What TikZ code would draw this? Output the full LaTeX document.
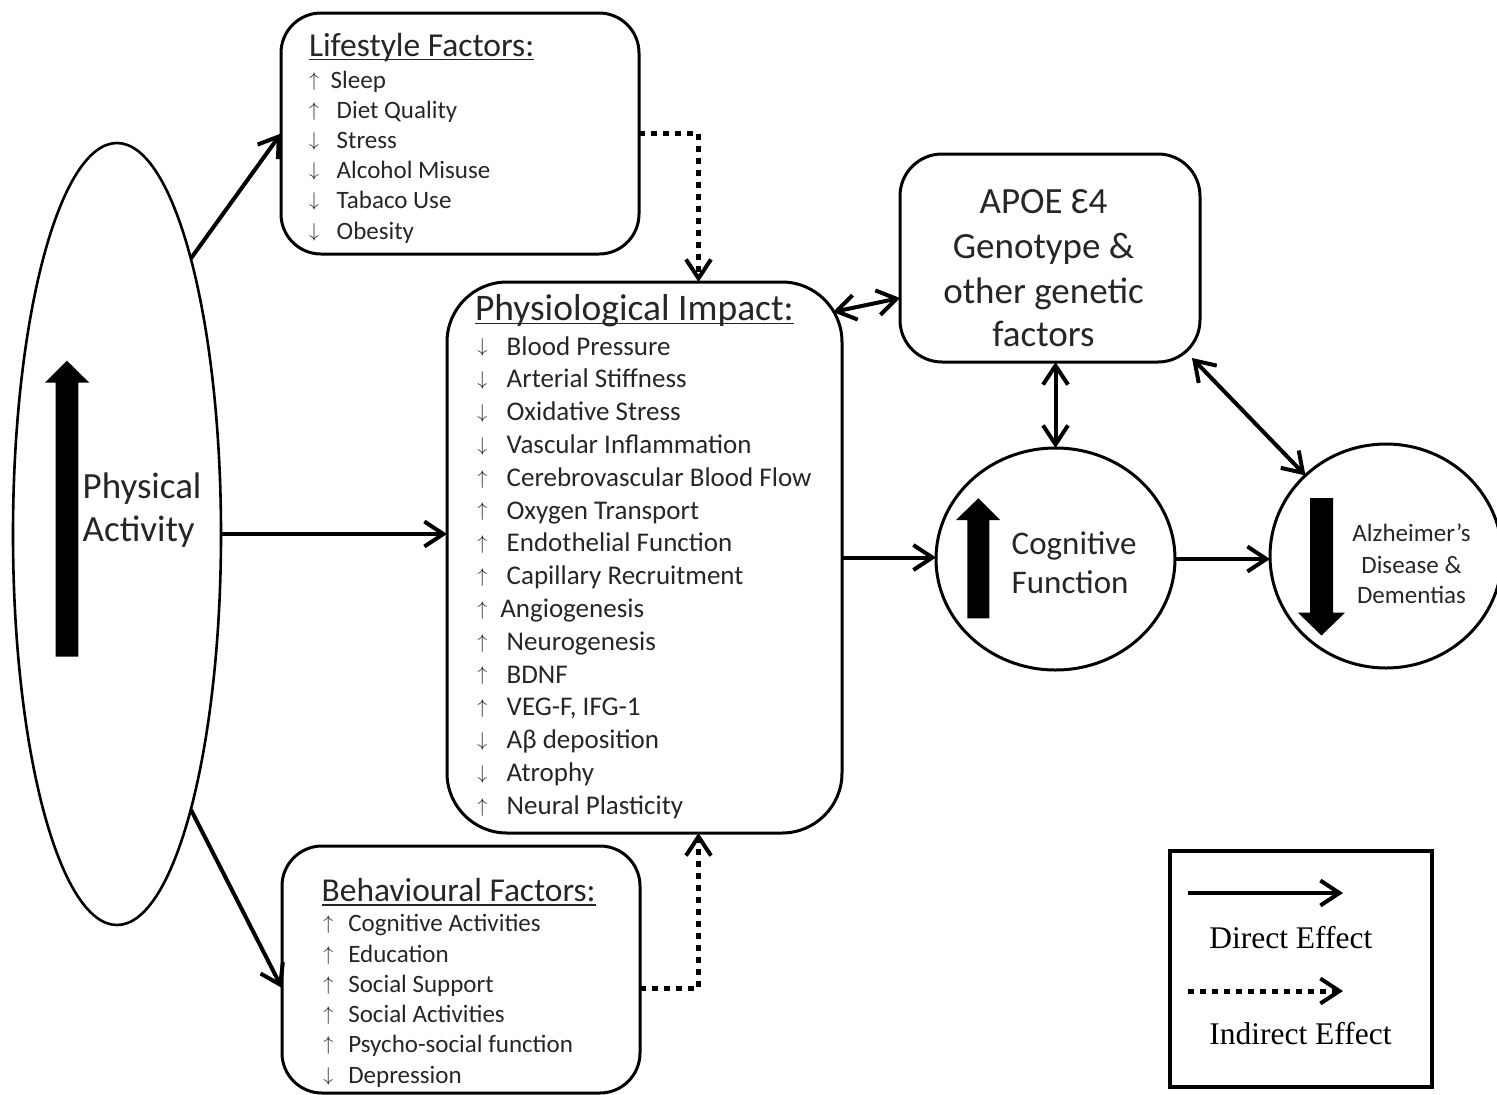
\documentclass[tikz,border=0pt]{standalone}
\usepackage{graphicx}
\usepackage{fontspec}
\setmainfont{Carlito}
\newfontfamily\tnr{Liberation Serif}
\usetikzlibrary{arrows.meta,calc,shapes.geometric}
\definecolor{tcol}{RGB}{38,38,38}
\newlength\arrw
\newcommand\ua{\raisebox{0.08em}{\scalebox{0.8}{$\uparrow$}}}
\newcommand\da{\raisebox{0.08em}{\scalebox{0.8}{$\downarrow$}}}
\newcommand\U{\makebox[\arrw][l]{\ua}}
\newcommand\D{\makebox[\arrw][l]{\da}}
\begin{document}
\begin{tikzpicture}[x=1pt,y=-1pt,
  box/.style={draw, line width=3pt, inner sep=0pt, outer sep=0pt},
  txt/.style={inner sep=0pt, outer sep=0pt, anchor=base west, text=tcol},
  ctxt/.style={inner sep=0pt, outer sep=0pt, anchor=base, text=tcol},
  conn/.style={line width=4pt, -{Straight Barb[length=19pt,width=25pt]}},
  dconn/.style={line width=4pt, {Straight Barb[length=19pt,width=25pt]}-{Straight Barb[length=19pt,width=25pt]}},
  indir/.style={line width=5pt, dash pattern=on 6pt off 6pt, -{Straight Barb[length=19pt,width=25pt,line width=4pt]}},
  uline/.style={line width=1.6pt, tcol},
]
\useasboundingbox (0,0) rectangle (1497,1095);

% main shapes
\node[box, rounded corners=40pt, minimum width=358pt, minimum height=241pt] (ls) at (460,133.5) {};
\node[box, rounded corners=60pt, minimum width=395pt, minimum height=551pt] (pi) at (644.5,557.5) {};
\node[box, rounded corners=40pt, minimum width=358pt, minimum height=247pt] (bf) at (461,969.5) {};
\node[box, rounded corners=42pt, minimum width=300pt, minimum height=208pt] (ap) at (1050,258) {};
\node[box, line width=2.6pt, ellipse, minimum width=208pt, minimum height=782pt] (pa) at (117,534) {};
\node[box, ellipse, minimum width=239pt, minimum height=222pt] (cf) at (1055.5,559) {};
\node[box, ellipse, minimum width=232pt, minimum height=224pt] (ad) at (1386,556) {};
\node[draw, line width=4.5pt, minimum width=262pt, minimum height=236pt, inner sep=0pt, outer sep=0pt] (lg) at (1301,969) {};

% block arrows
\fill (55.7,656.7) -- (55.7,382.7) -- (45,382.7) -- (66.9,360.7) -- (89.3,382.7) -- (78.3,382.7) -- (78.3,656.7) -- cycle;
\fill (967.3,618.3) -- (967.3,520) -- (956,520) -- (978.3,498.3) -- (1000,520) -- (989.3,520) -- (989.3,618.3) -- cycle;
\fill (1310,498) -- (1333,498) -- (1333,612.7) -- (1345,612.7) -- (1321.5,635.5) -- (1298,612.7) -- (1310,612.7) -- cycle;

% connectors
\draw[conn] (pa.75) -- (ls.west);
\draw[conn] (pa.east) -- (pa.east -| pi.west);
\draw[conn] (pa.-75) -- ($(bf.west)+(0,18.5)$);
\draw[indir] (ls.east) -| ($(pi.north)+(54,0)$);
\draw[indir] ($(bf.east)+(0,18.5)$) -| ($(pi.south)+(54,0)$);
\draw[dconn] ($(pi.north east)+(-9,30)$) -- ($(ap.west)+(0,40)$);
\draw[dconn] (ap.south -| cf.north) -- (cf.north);
\draw[dconn] ($(ap.south east)+(-8,-4)$) -- (ad.135);
\draw[conn] (pi.east) -- (pi.east -| cf.west);
\draw[conn] (cf.east) -- (cf.east -| ad.west);

% Physical activity
\node[txt, font=\fontsize{37}{44}\selectfont] (pa1) at (82.7,498) {Physical};
\node[txt, font=\fontsize{37}{44}\selectfont] (pa2) at (82.7,541) {Activity};

% Lifestyle
\node[txt, font=\fontsize{33.5}{40}\selectfont] (lsh) at (309,56) {Lifestyle Factors:};
\draw[uline] ($(lsh.base west)+(0,3.5)$) -- ($(lsh.base east)+(0,3.5)$);
\setlength\arrw{27.7pt}
\foreach \t [count=\i from 0] in {{\makebox[21.7pt][l]{\ua}Sleep}, {\U Diet Quality}, {\D Stress}, {\D Alcohol Misuse}, {\D Tabaco Use}, {\D Obesity}}
  \node[txt, font=\fontsize{25}{30}\selectfont] (ls\i) at (309,88.3+30.14*\i) {\t};

% Physiological
\node[txt, font=\fontsize{37.5}{45}\selectfont] (pih) at (475,320) {Physiological Impact:};
\draw[uline] ($(pih.base west)+(0,3.5)$) -- ($(pih.base east)+(0,3.5)$);
\setlength\arrw{29.4pt}
\foreach \t [count=\i from 0] in {{\D Blood Pressure}, {\D Arterial Stiffness}, {\D Oxidative Stress}, {\D Vascular Inflammation}, {\U Cerebrovascular Blood Flow}, {\U Oxygen Transport}, {\U Endothelial Function}, {\U Capillary Recruitment}, {\makebox[23pt][l]{\ua}Angiogenesis}, {\U Neurogenesis}, {\U BDNF}, {\U VEG-F, IFG-1}, {\D Aβ deposition}, {\D Atrophy}, {\U Neural Plasticity}}
  \node[txt, font=\fontsize{27}{32}\selectfont] (pi\i) at (477.3,355+32.8*\i) {\t};

% Behavioural
\node[txt, font=\fontsize{33.4}{40}\selectfont] (bfh) at (321.7,901.7) {Behavioural Factors:};
\draw[uline] ($(bfh.base west)+(0,3.5)$) -- ($(bfh.base east)+(0,3.5)$);
\setlength\arrw{25pt}
\foreach \t [count=\i from 0] in {{\U Cognitive Activities}, {\U Education}, {\U Social Support}, {\U Social Activities}, {\U Psycho-social function}, {\D Depression}}
  \node[txt, font=\fontsize{25}{30}\selectfont] (bf\i) at (323.3,931.7+30.3*\i) {\t};

% APOE
\node[ctxt, font=\fontsize{37}{44}\selectfont] (ap1) at (1043.5,213.3) {APOE Ɛ4};
\node[ctxt, font=\fontsize{37}{44}\selectfont] (ap2) at (1043.5,258.3) {Genotype \&};
\node[ctxt, font=\fontsize{37}{44}\selectfont] (ap3) at (1043.5,303.3) {other genetic};
\node[ctxt, font=\fontsize{37}{44}\selectfont] (ap4) at (1043.5,346.7) {factors};

% Cognitive
\node[txt, font=\fontsize{33}{39}\selectfont] (cf1) at (1011.7,554) {Cognitive};
\node[txt, font=\fontsize{33}{39}\selectfont] (cf2) at (1011.7,593) {Function};

% Alzheimer
\node[ctxt, font=\fontsize{25}{30}\selectfont] (ad1) at (1411.5,541.7) {Alzheimer’s};
\node[ctxt, font=\fontsize{25}{30}\selectfont] (ad2) at (1411.5,573) {Disease \&};
\node[ctxt, font=\fontsize{25}{30}\selectfont] (ad3) at (1411.5,603) {Dementias};

% Legend
\coordinate (l1a) at (1188,893);
\coordinate (l1b) at (1343,893);
\draw[conn] (l1a) -- (l1b);
\node[txt, text=black, font=\tnr\fontsize{31.5}{38}\selectfont] (lgd) at (1209.3,948.3) {Direct Effect};
\coordinate (l2a) at (1188,991);
\coordinate (l2b) at (1343,991);
\draw[indir] (l2a) -- (l2b);
\node[txt, text=black, font=\tnr\fontsize{31.5}{38}\selectfont] (lgi) at (1209.3,1044) {Indirect Effect};
\end{tikzpicture}
\end{document}
